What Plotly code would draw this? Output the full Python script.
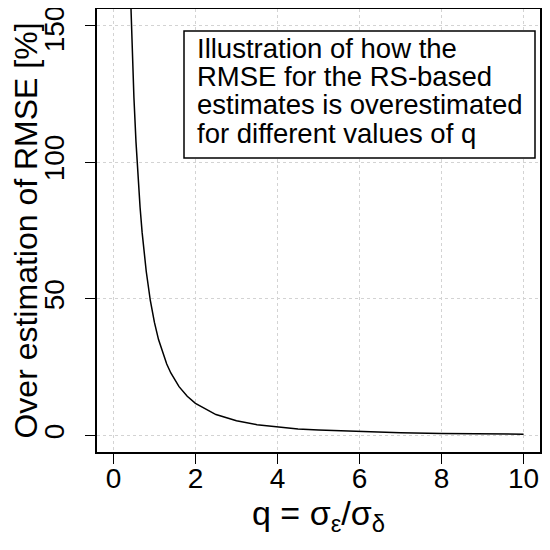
import plotly.graph_objects as go

# values
q_vals = [0.40, 0.42, 0.45, 0.50, 0.55, 0.60, 0.65, 0.70, 0.75, 0.80, 0.90,
          1.0, 1.1, 1.2, 1.3, 1.4, 1.6, 1.8, 2.0, 2.5, 3.0, 3.5, 4.0, 4.5,
          5.0, 6.0, 7.0, 8.0, 9.0, 10.0]
over_pct = [169.3, 158.2, 143.7, 123.6, 107.5, 94.4, 83.5, 74.3, 66.7, 60.1, 49.4,
            41.4, 35.1, 30.2, 26.2, 22.9, 17.9, 14.4, 11.8, 7.7, 5.4, 4.0, 3.1, 2.4,
            2.0, 1.4, 1.0, 0.8, 0.6, 0.5]

x_ticks = [0, 2, 4, 6, 8, 10]
y_ticks = [0, 50, 100, 150]
# top label padded so it isn't clipped at the page edge
y_ticklabels = ["0", "50", "100", "150\u00a0\u00a0"]

note_lines = [
    "Illustration of how the",
    "RMSE for the RS-based",
    "estimates is overestimated",
    "for different values of q",
]

FONT = "Liberation Sans, Arial, sans-serif"

# the page body has an 8px margin, so the figure is a bit smaller than the window
W, H = 534, 534
OFF = 8
L, T, R, B = 97 - OFF, 9 - OFF, 540 - OFF, 452 - OFF

fig = go.Figure()
fig.add_trace(
    go.Scatter(
        x=q_vals,
        y=over_pct,
        mode="lines",
        line=dict(color="black", width=1.5),
        showlegend=False,
    )
)

# screen pixel -> paper coords
def px_x(p):
    return (p - 97) / 443.0

def px_y(p):
    return (452 - p) / 443.0

# note box
fig.add_shape(
    type="rect",
    xref="paper", yref="paper",
    x0=px_x(184), x1=px_x(535), y0=px_y(158), y1=px_y(31),
    line=dict(color="black", width=1.5),
    fillcolor="white",
    layer="above",
)
baselines = [58, 86.3, 114.6, 143]
for txt, b in zip(note_lines, baselines):
    fig.add_annotation(
        text=txt,
        xref="paper", yref="paper",
        x=px_x(195), y=px_y(b - 10),
        xanchor="left", yanchor="middle",
        showarrow=False,
        font=dict(family=FONT, size=27.5, color="black"),
    )

axis_common = dict(
    showline=True,
    linecolor="black",
    linewidth=1.5,
    mirror=True,
    ticks="outside",
    ticklen=10,
    tickwidth=1,
    tickcolor="black",
    showgrid=True,
    gridcolor="lightgray",
    griddash="dot",
    gridwidth=1,
    zeroline=False,
    automargin=False,
    ticklabeloverflow="allow",
    tickfont=dict(family=FONT, size=28, color="black"),
)

fig.update_layout(
    width=W,
    height=H,
    margin=dict(l=L, r=W - R, t=T, b=H - B, pad=0),
    plot_bgcolor="white",
    paper_bgcolor="white",
    font=dict(family=FONT, color="black"),
    xaxis=dict(
        axis_common,
        range=[-0.4, 10.4],
        tickvals=x_ticks,
        ticklabelstandoff=-9,
        title=dict(
            text="q = σ<sub>ε</sub>/σ<sub>δ</sub>",
            font=dict(family=FONT, size=34, color="black"),
            standoff=3,
        ),
    ),
    yaxis=dict(
        axis_common,
        range=[-6, 156],
        tickvals=y_ticks,
        ticktext=y_ticklabels,
        tickangle=-90,
        ticklabelstandoff=10,
        title=dict(
            text="Over estimation of RMSE [%]",
            font=dict(family=FONT, size=32, color="black"),
            standoff=4,
        ),
    ),
)

fig.write_html("out.html")
